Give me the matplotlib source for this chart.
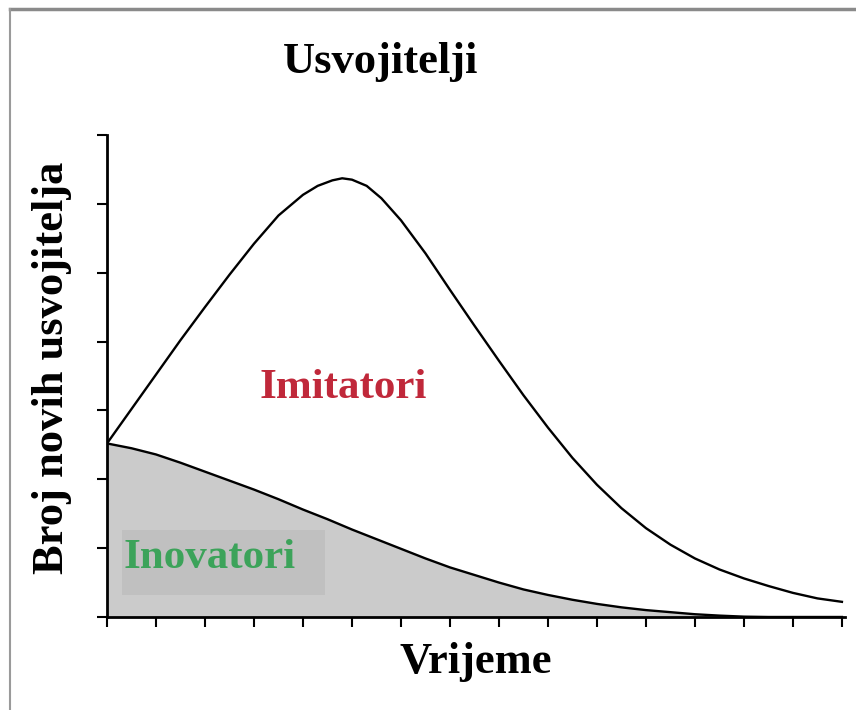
import numpy as np
import matplotlib
matplotlib.use("Agg")
import matplotlib.pyplot as plt
from matplotlib.lines import Line2D
from matplotlib.patches import Rectangle

# ukupni broj novih usvojitelja (inovatori + imitatori), ocitano sa slike
total_x = [0, 0.5, 1.0, 1.5, 2.0, 2.5, 3.0, 3.5, 4.0, 4.3, 4.6, 4.8, 5.0,
           5.3, 5.6, 6.0, 6.5, 7.0, 7.5, 8.0, 8.5, 9.0, 9.5, 10.0, 10.5,
           11.0, 11.5, 12.0, 12.5, 13.0, 13.5, 14.0, 14.5, 15.0]
total_y = [2.52, 3.02, 3.52, 4.02, 4.50, 4.97, 5.42, 5.83, 6.13, 6.26, 6.34,
           6.37, 6.35, 6.26, 6.08, 5.76, 5.28, 4.75, 4.23, 3.72, 3.22, 2.75,
           2.31, 1.92, 1.58, 1.29, 1.05, 0.85, 0.69, 0.56, 0.45, 0.35, 0.27,
           0.22]

# inovatori
inov_x = [0, 0.5, 1.0, 1.5, 2.0, 2.5, 3.0, 3.5, 4.0, 4.5, 5.0, 5.5, 6.0,
          6.5, 7.0, 7.5, 8.0, 8.5, 9.0, 9.5, 10.0, 10.5, 11.0, 11.5, 12.0,
          12.5, 13.0, 13.5, 15.0]
inov_y = [2.52, 2.45, 2.36, 2.24, 2.11, 1.98, 1.85, 1.71, 1.56, 1.42, 1.27,
          1.13, 0.99, 0.85, 0.72, 0.61, 0.50, 0.40, 0.32, 0.25, 0.19, 0.14,
          0.10, 0.07, 0.04, 0.02, 0.005, 0.0, 0.0]

x_ticks = list(range(0, 16))
y_ticks = list(range(0, 8))

font = "Liberation Serif"

fig = plt.figure(figsize=(8.56, 7.1), dpi=100)
ax = fig.add_axes([0.125, 0.131, 0.862, 0.679])

ax.fill_between(inov_x, inov_y, 0, color="#cbcbcb", lw=0)
ax.add_patch(Rectangle((0.31, 0.32), 4.14, 0.94, color="#c0c0c0", lw=0))
ax.plot(inov_x, inov_y, color="black", lw=1.7, solid_joinstyle="round")
ax.plot(total_x, total_y, color="black", lw=1.7, solid_joinstyle="round")

ax.text(4.82, 3.32, "Imitatori", color="#c0283a", fontsize=31,
        fontweight="bold", family=font, ha="center", va="center")
ax.text(0.33, 0.86, "Inovatori", color="#3ca35a", fontsize=31,
        fontweight="bold", family=font, ha="left", va="center")

ax.set_xlim(0, 15.06)
ax.set_ylim(0, 7)
ax.set_xticks(x_ticks)
ax.set_yticks(y_ticks)
ax.set_xticklabels([])
ax.set_yticklabels([])
ax.tick_params(direction="out", length=7, width=1.5, color="black")
for s in ["top", "right"]:
    ax.spines[s].set_visible(False)
for s in ["left", "bottom"]:
    ax.spines[s].set_linewidth(2.0)

fig.text(0.444, 0.913, "Usvojitelji", fontsize=32, fontweight="bold",
         family=font, ha="center", va="center")
fig.text(0.556, 0.068, "Vrijeme", fontsize=32, fontweight="bold",
         family=font, ha="center", va="center")
fig.text(0.061, 0.482, "Broj novih usvojitelja", fontsize=32, fontweight="bold",
         family=font, ha="center", va="center", rotation=90)

# sivi okvir slike
fig.add_artist(Line2D([0.0117, 1], [0.987, 0.987], color="#8a8a8a", lw=2.5))
fig.add_artist(Line2D([0.0117, 0.0117], [0, 0.987], color="#9a9a9a", lw=1.5))

fig.savefig("out.png", dpi=100)
